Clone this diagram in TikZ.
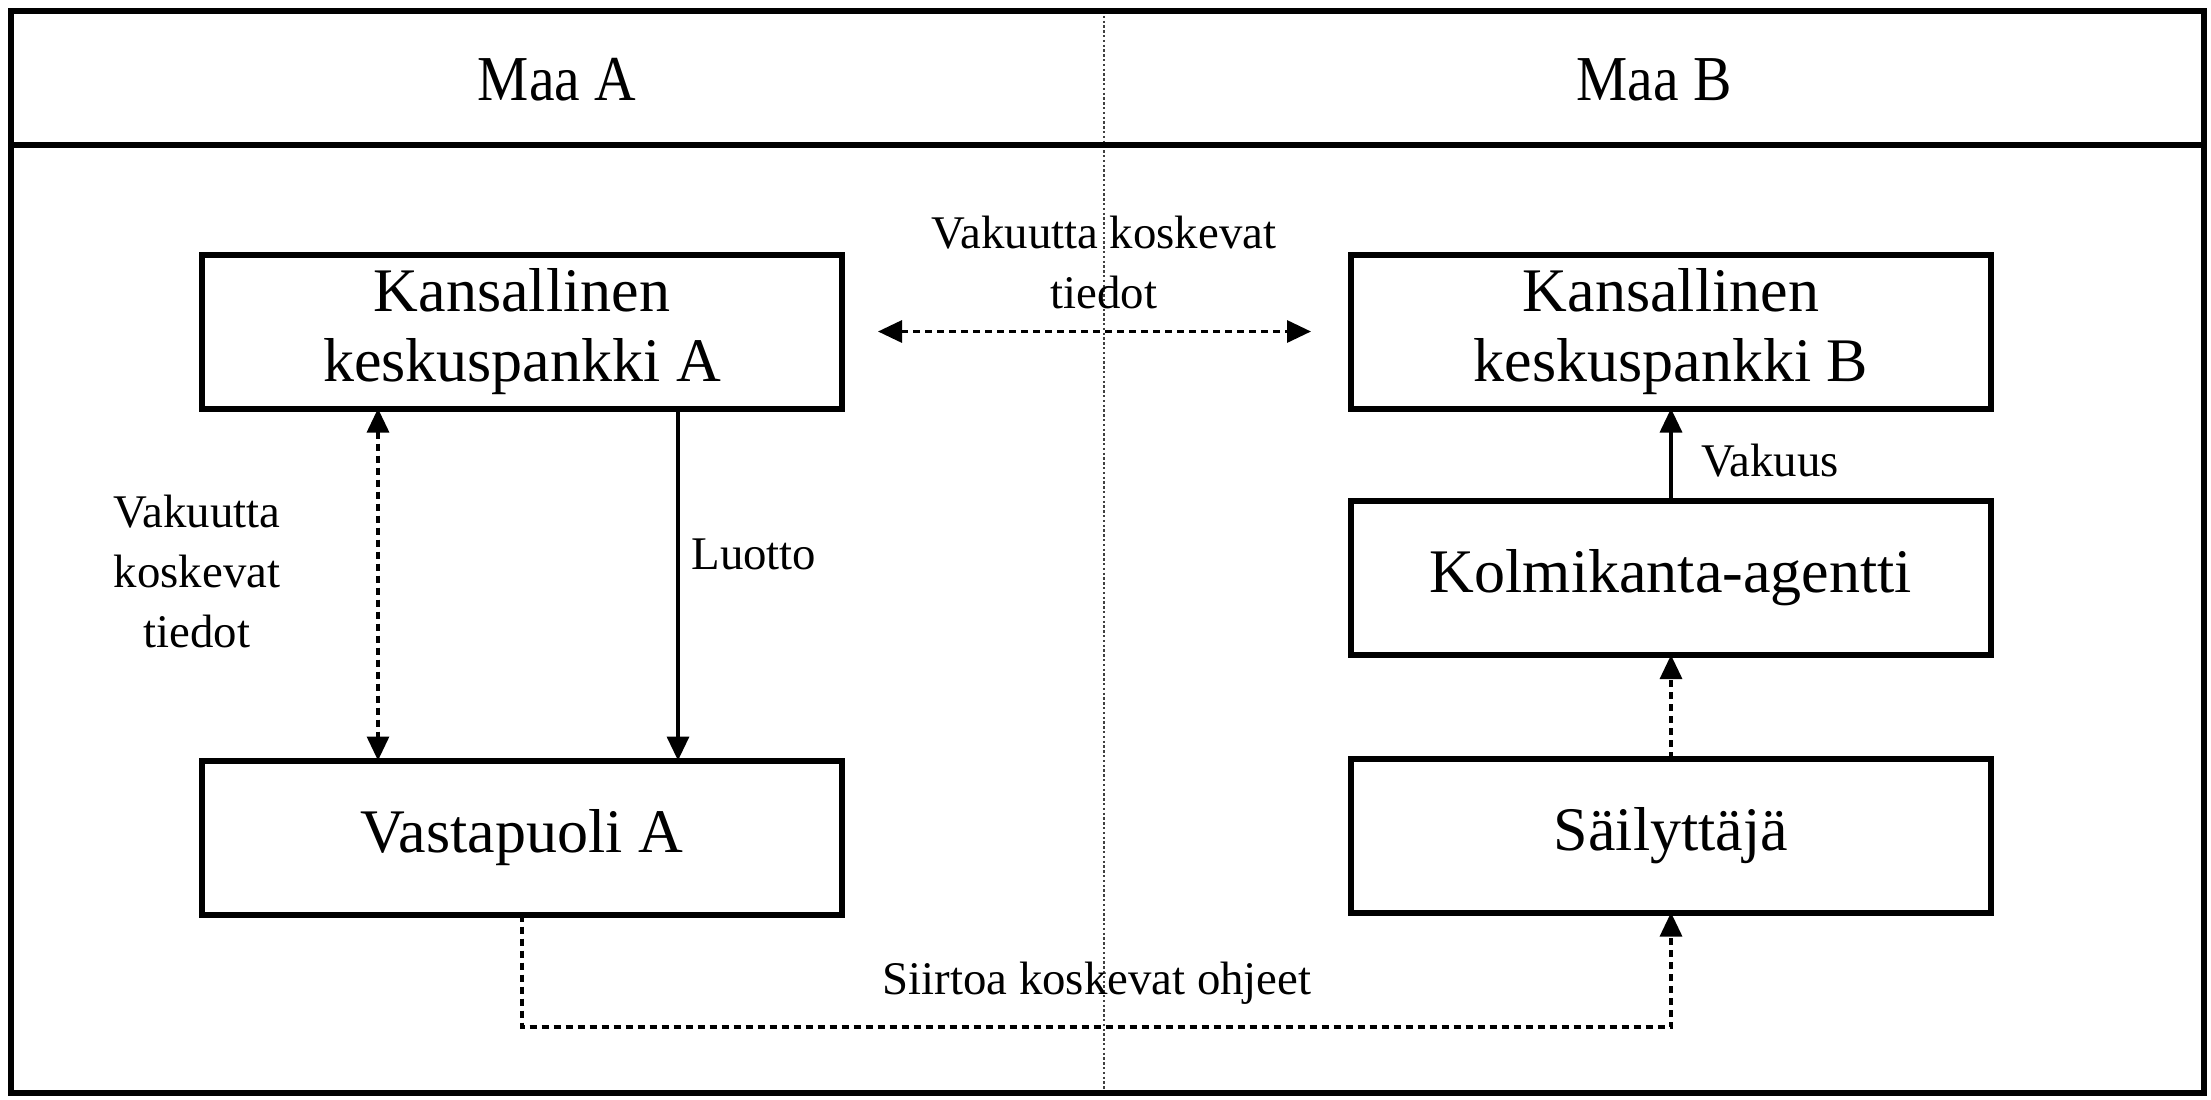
\documentclass[tikz,border=0pt]{standalone}
\usepackage{fontspec}
\setmainfont{Liberation Serif}
\newfontfamily\condfont[FakeStretch=0.9]{Liberation Serif}
\usetikzlibrary{arrows.meta}
\begin{document}
\begin{tikzpicture}[x=0.5pt,y=-0.5pt,
  box/.style={draw=black,line width=3pt,fill=white,minimum width=320pt,minimum height=77pt,align=center,inner sep=2pt,outer sep=0pt,font=\fontsize{31}{35}\selectfont},
  lbl/.style={align=center,font=\fontsize{23.4}{30}\selectfont,inner sep=0pt},
  head/.style={font=\condfont\fontsize{32}{36}\selectfont,inner sep=0pt},
  tip/.style={-{Triangle[width=11pt,length=12pt]}},
  dtip/.style={{Triangle[width=11pt,length=12pt]}-{Triangle[width=11pt,length=12pt]}},
  dashline/.style={line width=1.6pt,dash pattern=on 3.5pt off 2.5pt},
  solidline/.style={line width=1.7pt},
  frameline/.style={line width=3.2pt},
  divider/.style={line width=1pt,dash pattern=on 1.2pt off 1.2pt,draw=black!75}
]
\useasboundingbox (0,0) rectangle (2211,1099);
% frame
\draw[divider] (1104,11) -- (1104,1093);
\draw[frameline] (11,11) rectangle (2204,1093);
\draw[frameline] (11,145) -- (2204,145);
\node[head] (maaA) at (557,80) {Maa A};
\node[head] (maaB) at (1654,80) {Maa B};
% boxes
\node[box] (KA) at (522,331.5) {Kansallinen\\keskuspankki A};
\node[box] (VA) at (522,837.5) {Vastapuoli A};
\node[box] (KB) at (1671,331.5) {Kansallinen\\keskuspankki B};
\node[box] (KOL) at (1671,578) {Kolmikanta-agentti};
\node[box] (SAI) at (1671,835.5) {Säilyttäjä};
% connectors
\draw[dashline,dtip] ([xshift=-72pt]KA.south) -- ([xshift=-72pt]VA.north);
\draw[solidline,tip] ([xshift=78pt]KA.south) -- ([xshift=78pt]VA.north);
\draw[dashline,dtip] ([xshift=18pt]KA.east) -- ([xshift=-20pt]KB.west);
\draw[solidline,tip] (KOL.north) -- (KB.south);
\draw[dashline,tip] (SAI.north) -- (KOL.south);
\coordinate (bot) at (0,1027);
\draw[dashline,tip] (VA.south) -- (VA.south |- bot) -- (SAI.south |- bot) -- (SAI.south);
% labels
\node[lbl] (l1) at (197,571) {Vakuutta\\koskevat\\tiedot};
\node[lbl,anchor=west] (l2) at (691,554) {Luotto};
\node[lbl] (l3) at (1104,262) {Vakuutta koskevat\\tiedot};
\node[lbl] (l4) at (1770,461) {Vakuus};
\node[lbl] (l5) at (1097,983) {Siirtoa koskevat ohjeet};
\end{tikzpicture}
\end{document}
